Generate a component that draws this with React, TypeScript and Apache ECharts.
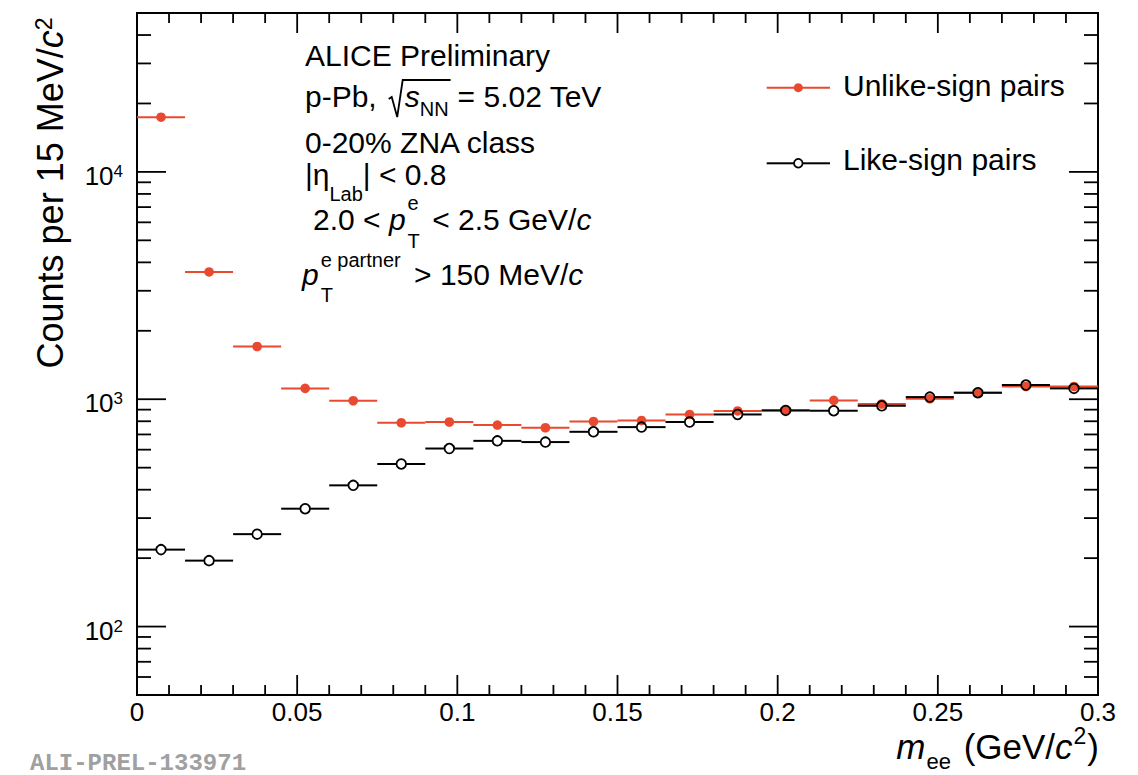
import React, { useEffect, useRef } from 'react';
import * as echarts from 'echarts';

// Invariant-mass bins (15 MeV/c^2 wide), bin centres in GeV/c^2
const massCenters = [
  0.0075, 0.0225, 0.0375, 0.0525, 0.0675, 0.0825, 0.0975, 0.1125, 0.1275, 0.1425,
  0.1575, 0.1725, 0.1875, 0.2025, 0.2175, 0.2325, 0.2475, 0.2625, 0.2775, 0.2925,
];
const binWidth = 0.015;

// Counts per bin
const unlikeSign = [
  17400, 3630, 1706, 1116, 985, 788, 794, 770, 749, 798,
  806, 857, 888, 893, 988, 953, 1005, 1068, 1138, 1138,
];
const likeSign = [
  218, 195, 255, 330, 418, 519, 607, 656, 648, 719,
  754, 794, 857, 893, 890, 936, 1022, 1068, 1155, 1116,
];

const unlikeName = 'Unlike-sign pairs';
const likeName = 'Like-sign pairs';

// Axis ranges and tick labels
const xMin = 0;
const xMax = 0.3;
const xTickStep = 0.05;
const xMinorStep = 0.01;
const xTickLabels = ['0', '0.05', '0.1', '0.15', '0.2', '0.25', '0.3'];
const yMin = 50;
const yMax = 50000;
const yExponents = [2, 3, 4];

const RED = '#e8492f';
const BLACK = '#000000';
const FONT = '"Liberation Sans", Arial, Helvetica, sans-serif';

const measureCtx: CanvasRenderingContext2D | null =
  typeof document !== 'undefined' ? document.createElement('canvas').getContext('2d') : null;

function textWidth(t: string, size: number, italic = false): number {
  if (!measureCtx) return t.length * size * 0.55;
  measureCtx.font = `${italic ? 'italic ' : ''}${size}px ${FONT}`;
  return measureCtx.measureText(t).width;
}

type Tok = { t: string; size?: number; it?: boolean; dy?: number; gap?: number; hold?: boolean };

// Lays out a line of text pieces (with sub/superscripts) from a baseline
function textLine(x0: number, base: number, toks: Tok[], defSize: number, color = BLACK) {
  const els: any[] = [];
  const xs: number[] = [];
  const ends: number[] = [];
  let cur = x0;
  let holdW = 0;
  let holdX = 0;
  for (const tk of toks) {
    const size = tk.size ?? defSize;
    const x = holdW > 0 ? holdX : cur + (tk.gap ?? 0);
    const w = textWidth(tk.t, size, tk.it);
    xs.push(x);
    ends.push(x + w);
    els.push({
      type: 'text',
      x,
      y: base + (tk.dy ?? 0) - 0.35 * size,
      silent: true,
      style: {
        text: tk.t,
        fill: color,
        font: `${tk.it ? 'italic ' : ''}${size}px ${FONT}`,
        align: 'left',
        verticalAlign: 'middle',
      },
    });
    if (tk.hold) {
      holdW = Math.max(holdW, w);
      holdX = x;
    } else {
      cur = x + Math.max(w, holdW);
      holdW = 0;
    }
  }
  return { els, xs, ends, end: cur };
}

function buildTicks() {
  const yTicks: number[][] = [];
  for (const decade of [10, 100, 1000, 10000]) {
    for (let m = 1; m <= 9; m++) {
      const v = m * decade;
      if (v >= yMin && v < yMax) yTicks.push([xMin, v, m === 1 ? 1 : 0]);
    }
  }
  const xTicks: number[][] = [];
  const n = Math.round((xMax - xMin) / xMinorStep);
  const per = Math.round(xTickStep / xMinorStep);
  for (let i = 1; i < n; i++) {
    xTicks.push([xMin + i * xMinorStep, yMin, i % per === 0 ? 1 : 0]);
  }
  return { yTicks, xTicks };
}

function buildOption() {
  const { yTicks, xTicks } = buildTicks();
  const half = binWidth / 2;

  const pointSeries = (name: string, values: number[], color: string, hollow: boolean, z: number) => ({
    type: 'custom',
    name,
    z,
    silent: true,
    data: massCenters.map((m, i) => [m, values[i]]),
    renderItem: (_p: any, api: any) => {
      const x = api.value(0);
      const y = api.value(1);
      const c = api.coord([x, y]);
      const l = api.coord([x - half, y]);
      const r = api.coord([x + half, y]);
      const rad = 4.8;
      const children: any[] = [];
      if (hollow) {
        children.push(
          { type: 'line', shape: { x1: l[0], y1: c[1], x2: c[0] - rad, y2: c[1] }, style: { stroke: color, lineWidth: 2 } },
          { type: 'line', shape: { x1: c[0] + rad, y1: c[1], x2: r[0], y2: c[1] }, style: { stroke: color, lineWidth: 2 } },
          { type: 'circle', shape: { cx: c[0], cy: c[1], r: rad }, style: { fill: 'none', stroke: color, lineWidth: 1.8 } },
        );
      } else {
        children.push(
          { type: 'line', shape: { x1: l[0], y1: c[1], x2: r[0], y2: c[1] }, style: { stroke: color, lineWidth: 2 } },
          { type: 'circle', shape: { cx: c[0], cy: c[1], r: rad }, style: { fill: color } },
        );
      }
      return { type: 'group', children };
    },
  });

  const graphic: any[] = [];

  // Info text block
  graphic.push(...textLine(305, 65.5, [{ t: 'ALICE Preliminary' }], 30).els);

  const l2Base = 107;
  const l2 = textLine(305, l2Base, [
    { t: 'p-Pb,' },
    { t: 's', it: true, gap: 28 },
    { t: 'NN', size: 20, dy: 9 },
    { t: '= 5.02 TeV', gap: 9 },
  ], 30);
  graphic.push(...l2.els);
  const rx = l2.xs[1] - 15;
  graphic.push({
    type: 'polyline',
    silent: true,
    shape: {
      points: [
        [rx - 1, l2Base - 8],
        [rx + 2, l2Base - 10],
        [rx + 7.5, l2Base + 10],
        [rx + 13, l2Base - 27],
        [l2.ends[2] + 2, l2Base - 27],
      ],
    },
    style: { stroke: BLACK, lineWidth: 1.8, fill: null },
  });

  graphic.push(...textLine(305, 153, [{ t: '0-20% ZNA class' }], 30).els);
  graphic.push(
    ...textLine(305, 185, [
      { t: '|\u03B7' },
      { t: 'Lab', size: 20, dy: 16 },
      { t: '| < 0.8' },
    ], 30).els,
  );
  graphic.push(
    ...textLine(313, 230, [
      { t: '2.0 < ' },
      { t: 'p', it: true },
      { t: 'T', size: 20, dy: 18, gap: 2, hold: true },
      { t: 'e', size: 20, dy: -20 },
      { t: ' < 2.5 GeV/', gap: 4 },
      { t: 'c', it: true },
    ], 30).els,
  );
  graphic.push(
    ...textLine(302, 285, [
      { t: 'p', it: true },
      { t: 'T', size: 20, dy: 17, gap: 2, hold: true },
      { t: 'e partner', size: 20, dy: -18 },
      { t: ' > 150 MeV/', gap: 5 },
      { t: 'c', it: true },
    ], 30).els,
  );

  // Legend
  graphic.push(
    { type: 'line', silent: true, shape: { x1: 766.7, y1: 87.7, x2: 830, y2: 87.7 }, style: { stroke: RED, lineWidth: 2 } },
    { type: 'circle', silent: true, shape: { cx: 798.3, cy: 87.7, r: 4.5 }, style: { fill: RED } },
    { type: 'line', silent: true, shape: { x1: 766.7, y1: 163.3, x2: 793.8, y2: 163.3 }, style: { stroke: BLACK, lineWidth: 2 } },
    { type: 'line', silent: true, shape: { x1: 802.8, y1: 163.3, x2: 830, y2: 163.3 }, style: { stroke: BLACK, lineWidth: 2 } },
    { type: 'circle', silent: true, shape: { cx: 798.3, cy: 163.3, r: 4.3 }, style: { fill: 'none', stroke: BLACK, lineWidth: 1.8 } },
  );
  graphic.push(...textLine(843, 95.7, [{ t: unlikeName }], 30).els);
  graphic.push(...textLine(843, 170.3, [{ t: likeName }], 30).els);

  // Axis titles
  graphic.push({
    type: 'text',
    x: 50,
    y: 193,
    rotation: Math.PI / 2,
    silent: true,
    style: {
      text: '{a|Counts per 15 MeV/}{i|c}{s|2}',
      align: 'center',
      verticalAlign: 'middle',
      rich: {
        a: { fontSize: 36, fontFamily: FONT, fill: BLACK },
        i: { fontSize: 36, fontFamily: FONT, fontStyle: 'italic', fill: BLACK },
        s: { fontSize: 23, fontFamily: FONT, fill: BLACK, verticalAlign: 'top' },
      },
    },
  });
  const xTitle: Tok[] = [
    { t: 'm', it: true },
    { t: 'ee', size: 22, dy: 10, gap: 1 },
    { t: ' (GeV/', gap: 3 },
    { t: 'c', it: true },
    { t: '2', size: 23, dy: -15, gap: 1 },
    { t: ')', gap: 1 },
  ];
  const probe = textLine(0, 0, xTitle, 35);
  graphic.push(...textLine(1099 - probe.end, 759, xTitle, 35).els);

  // Preliminary figure tag
  graphic.push({
    type: 'text',
    x: 30,
    y: 763,
    silent: true,
    style: {
      text: 'ALI-PREL-133971',
      fill: '#a0a0a0',
      font: `bold 24px "Liberation Mono", "DejaVu Sans Mono", monospace`,
      align: 'left',
      verticalAlign: 'middle',
    },
  });

  return {
    animation: false,
    backgroundColor: '#ffffff',
    grid: {
      left: 137,
      right: 40,
      top: 13,
      bottom: 80,
      show: true,
      borderColor: BLACK,
      borderWidth: 2,
      backgroundColor: 'transparent',
    },
    xAxis: {
      type: 'value',
      min: xMin,
      max: xMax,
      interval: xTickStep,
      axisLine: { show: false },
      axisTick: { show: false },
      splitLine: { show: false },
      axisLabel: {
        margin: 4,
        fontSize: 26,
        fontFamily: FONT,
        color: BLACK,
        formatter: (v: number) => {
          const i = Math.round((v - xMin) / xTickStep);
          return xTickLabels[i] ?? '';
        },
      },
    },
    yAxis: {
      type: 'log',
      logBase: 10,
      min: yMin,
      max: yMax,
      axisLine: { show: false },
      axisTick: { show: false },
      splitLine: { show: false },
      axisLabel: {
        margin: 14,
        padding: [8, 0, 0, 0],
        formatter: (v: number) => {
          const e = Math.log10(v);
          const r = Math.round(e);
          if (Math.abs(e - r) > 1e-6 || !yExponents.includes(r)) return '';
          return `{b|10}{s|${r}}`;
        },
        rich: {
          b: { fontSize: 26, fontFamily: FONT, color: BLACK },
          s: { fontSize: 17, fontFamily: FONT, color: BLACK, verticalAlign: 'top' },
        },
      },
    },
    graphic,
    series: [
      pointSeries(unlikeName, unlikeSign, RED, false, 3),
      pointSeries(likeName, likeSign, BLACK, true, 4),
      {
        type: 'custom',
        name: 'yTicks',
        silent: true,
        z: 10,
        data: yTicks,
        renderItem: (params: any, api: any) => {
          const cs = params.coordSys;
          const y = api.coord([0.15, api.value(1)])[1];
          const len = api.value(2) ? 29 : 14;
          return {
            type: 'group',
            children: [
              { type: 'line', shape: { x1: cs.x, y1: y, x2: cs.x + len, y2: y }, style: { stroke: BLACK, lineWidth: 1.8 } },
              { type: 'line', shape: { x1: cs.x + cs.width - len, y1: y, x2: cs.x + cs.width, y2: y }, style: { stroke: BLACK, lineWidth: 1.8 } },
            ],
          };
        },
      },
      {
        type: 'custom',
        name: 'xTicks',
        silent: true,
        z: 10,
        data: xTicks,
        renderItem: (params: any, api: any) => {
          const cs = params.coordSys;
          const x = api.coord([api.value(0), 1000])[0];
          const len = api.value(2) ? 20 : 10;
          return {
            type: 'group',
            children: [
              { type: 'line', shape: { x1: x, y1: cs.y + cs.height, x2: x, y2: cs.y + cs.height - len }, style: { stroke: BLACK, lineWidth: 1.8 } },
              { type: 'line', shape: { x1: x, y1: cs.y, x2: x, y2: cs.y + len }, style: { stroke: BLACK, lineWidth: 1.8 } },
            ],
          };
        },
      },
    ],
  };
}

export default function App() {
  const ref = useRef<HTMLDivElement>(null);
  useEffect(() => {
    if (!ref.current) return;
    const chart = echarts.init(ref.current, null, { renderer: 'svg' });
    chart.setOption(buildOption() as any);
    return () => chart.dispose();
  }, []);
  return (
    <div
      ref={ref}
      style={{ position: 'absolute', left: 0, top: 0, width: 1138, height: 775, background: '#ffffff' }}
    />
  );
}
